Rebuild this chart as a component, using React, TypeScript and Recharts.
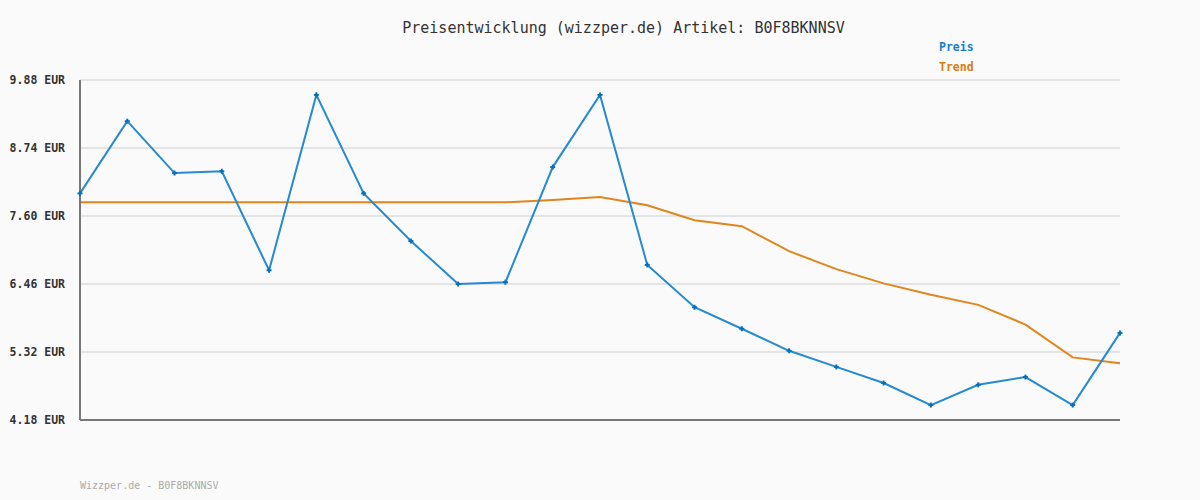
import { LineChart, Line, XAxis, YAxis, CartesianGrid } from "recharts";

// Messpunkte (ohne Datum im Bild, nur fortlaufend)
const punkte = ["1","2","3","4","5","6","7","8","9","10","11","12","13","14","15","16","17","18","19","20","21","22","23"];
const preis = [7.98, 9.19, 8.32, 8.35, 6.69, 9.63, 7.98, 7.18, 6.46, 6.49, 8.42, 9.63, 6.78, 6.07, 5.71, 5.34, 5.07, 4.80, 4.43, 4.77, 4.90, 4.43, 5.64];
const trend = [7.83, 7.83, 7.83, 7.83, 7.83, 7.83, 7.83, 7.83, 7.83, 7.83, 7.87, 7.92, 7.78, 7.53, 7.43, 7.01, 6.71, 6.47, 6.28, 6.11, 5.78, 5.23, 5.13];
const yTicks = [4.18, 5.32, 6.46, 7.6, 8.74, 9.88];

const data = punkte.map((p, i) => ({ p, preis: preis[i], trend: trend[i] }));

const MONO = "'DejaVu Sans Mono', 'Liberation Mono', monospace";

function PlusDot(props: any) {
  const { cx, cy } = props;
  if (cx == null || cy == null) return null;
  return (
    <g>
      <line x1={cx - 2.5} x2={cx + 2.5} y1={cy} y2={cy} stroke="#0a6fba" strokeWidth={2} />
      <line x1={cx} x2={cx} y1={cy - 2.5} y2={cy + 2.5} stroke="#0a6fba" strokeWidth={2} />
    </g>
  );
}

export default function App() {
  return (
    <div style={{ position: "absolute", left: 0, top: 0, width: 1200, height: 500, background: "#fafafa" }}>
      <div style={{
        position: "absolute", left: 0, width: 1200, top: 19, textAlign: "center", boxSizing: "border-box",
        fontFamily: MONO, fontSize: 15, color: "#333", paddingLeft: 47
      }}>
        Preisentwicklung (wizzper.de) Artikel: B0F8BKNNSV
      </div>
      <div style={{ position: "absolute", left: 939, top: 37, fontFamily: MONO, fontSize: 11.5, fontWeight: "bold", lineHeight: "20px" }}>
        <div style={{ color: "#1a7fc8" }}>Preis</div>
        <div style={{ color: "#d97a10" }}>Trend</div>
      </div>
      <LineChart width={1200} height={500} data={data} margin={{ top: 80, right: 80, bottom: 79, left: 0 }}>
        <CartesianGrid vertical={false} stroke="#e4e4e4" strokeWidth={2} />
        <XAxis dataKey="p" tick={false} tickLine={false} height={1} axisLine={{ stroke: "#777", strokeWidth: 2 }} />
        <YAxis
          width={80}
          domain={[4.18, 9.88]}
          ticks={yTicks}
          interval={0}
          tickLine={false}
          tickMargin={9}
          axisLine={{ stroke: "#777", strokeWidth: 2 }}
          tickFormatter={(v: number) => `${v.toFixed(2)} EUR`}
          tick={{ fontFamily: MONO, fontSize: 11.5, fontWeight: "bold", fill: "#333" }}
        />
        <Line dataKey="trend" stroke="#e0861c" strokeWidth={2} dot={false} isAnimationActive={false} />
        <Line dataKey="preis" stroke="#268ad2" strokeWidth={2} dot={<PlusDot />} activeDot={false} isAnimationActive={false} />
      </LineChart>
      <div style={{ position: "absolute", left: 80, top: 480, fontFamily: MONO, fontSize: 10, color: "#aaa" }}>
        Wizzper.de - B0F8BKNNSV
      </div>
    </div>
  );
}
